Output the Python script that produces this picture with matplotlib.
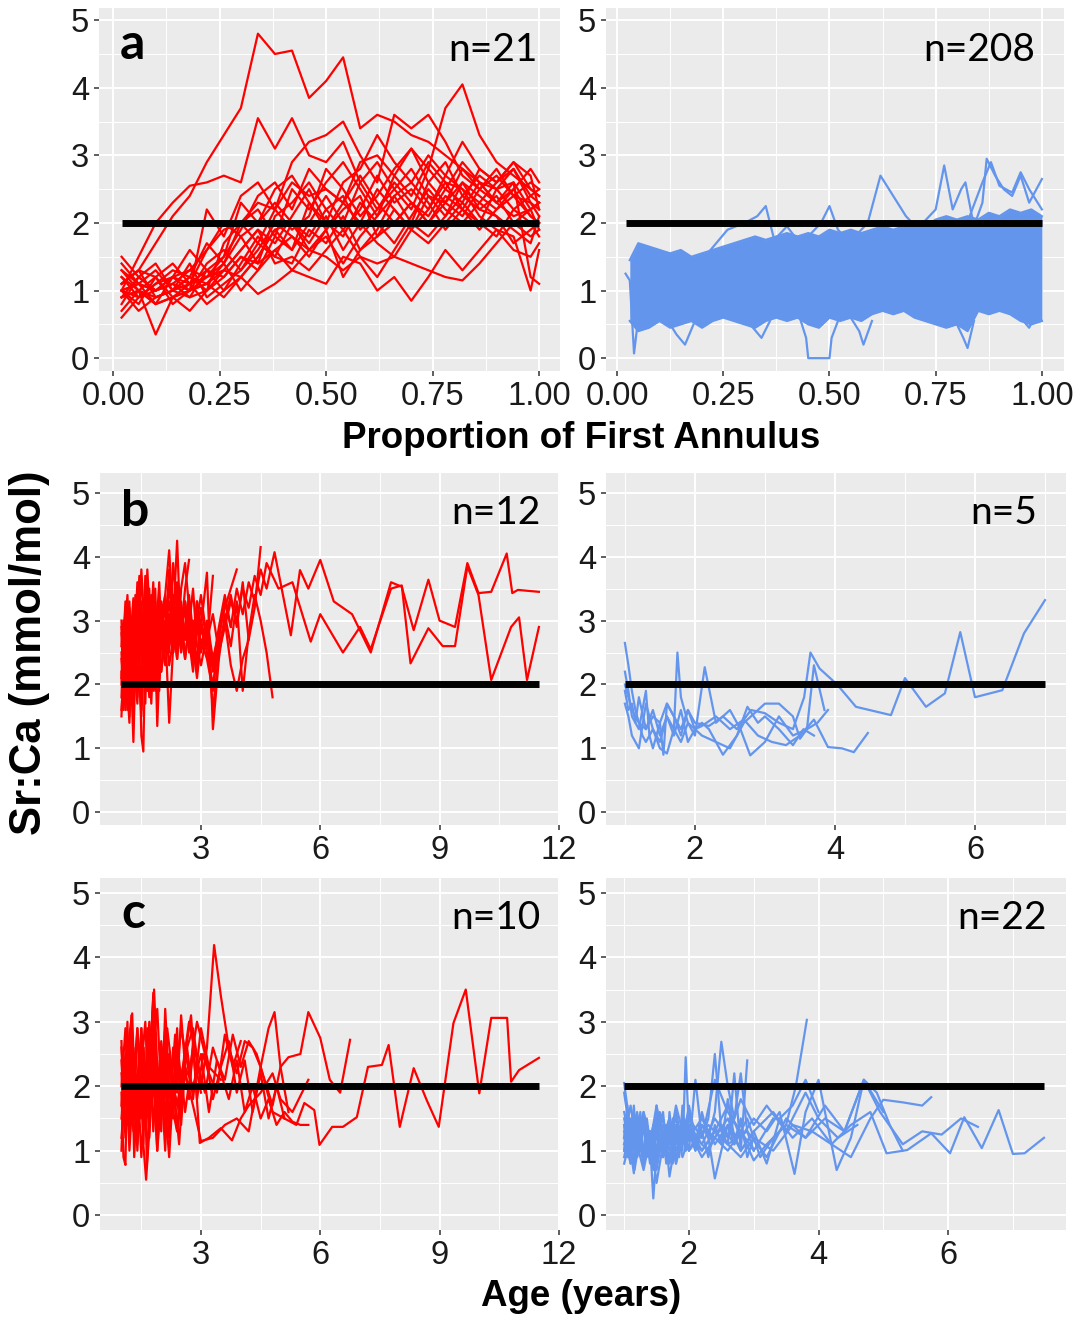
import matplotlib.pyplot as plt

RED = '#FF0000'
BLUE = '#6495ED'
PANEL_BG = '#EBEBEB'
THRESHOLD = 2.0

# ---------------- row a: Sr:Ca against proportion of first annulus ----------------
prop_a = [0.02, 0.06, 0.10, 0.14, 0.18, 0.22, 0.26, 0.30, 0.34, 0.38, 0.42, 0.46, 0.50,
          0.54, 0.58, 0.62, 0.66, 0.70, 0.74, 0.78, 0.82, 0.86, 0.90, 0.94, 0.98, 1.00]

a_left_srca = [
    [1.1, 1.3, 1.7, 2.1, 2.4, 2.9, 3.3, 3.7, 4.8, 4.5, 4.55, 3.85, 4.1, 4.45, 3.4, 3.6, 3.5, 3.3, 3.2, 3.0, 2.8, 2.6, 2.5, 2.8, 2.3, 2.2],
    [1.0, 0.9, 1.1, 1.2, 1.3, 1.6, 1.9, 2.0, 2.3, 2.2, 2.6, 2.4, 2.5, 2.3, 2.9, 3.0, 2.7, 3.1, 2.8, 3.7, 4.05, 3.3, 2.9, 2.7, 2.5, 2.4],
    [1.0, 1.5, 2.0, 2.3, 2.55, 2.6, 2.7, 2.6, 3.55, 3.1, 3.55, 3.0, 2.9, 3.2, 2.6, 2.2, 2.5, 2.8, 2.4, 2.1, 2.6, 2.4, 2.2, 2.5, 2.1, 2.0],
    [1.2, 1.0, 0.9, 1.0, 1.1, 1.3, 1.2, 1.5, 1.4, 1.6, 1.3, 1.2, 1.1, 1.5, 1.4, 1.0, 1.2, 0.85, 1.2, 1.6, 1.3, 1.6, 1.9, 1.8, 1.0, 1.6],
    [0.9, 1.0, 0.8, 0.9, 1.0, 1.2, 1.4, 1.0, 1.3, 1.6, 1.8, 1.6, 1.5, 1.3, 1.5, 1.4, 1.5, 1.4, 1.3, 1.2, 1.15, 1.4, 1.7, 2.0, 2.2, 1.9],
    [1.4, 1.1, 1.0, 1.1, 1.0, 2.2, 1.8, 2.4, 2.6, 2.2, 2.9, 3.2, 3.3, 3.5, 3.0, 2.6, 3.6, 3.4, 3.6, 3.2, 2.7, 2.5, 2.8, 2.4, 2.3, 2.1],
    [0.8, 1.2, 1.0, 1.1, 1.3, 1.2, 1.5, 2.3, 2.0, 2.5, 2.7, 2.3, 2.0, 2.6, 2.8, 3.3, 2.9, 2.6, 3.0, 2.7, 3.2, 2.8, 2.6, 2.9, 2.5, 2.4],
    [1.0, 0.7, 0.9, 1.0, 1.4, 0.9, 1.1, 1.3, 1.7, 1.5, 2.0, 1.7, 2.1, 1.6, 2.0, 2.5, 2.2, 1.9, 2.4, 2.3, 2.6, 2.2, 2.4, 2.0, 1.8, 1.9],
    [1.1, 1.3, 1.2, 0.8, 1.0, 1.1, 0.9, 1.2, 1.5, 1.9, 1.6, 2.3, 1.9, 2.2, 2.4, 1.8, 2.0, 2.3, 2.1, 2.5, 2.9, 2.6, 2.3, 2.6, 2.2, 2.3],
    [0.6, 0.9, 1.0, 1.2, 1.1, 1.6, 2.0, 1.8, 1.4, 2.1, 2.3, 2.6, 2.2, 2.4, 1.9, 2.2, 2.6, 2.3, 2.0, 2.3, 2.1, 2.5, 2.7, 2.4, 2.6, 2.5],
    [1.3, 1.0, 0.35, 0.9, 0.7, 1.0, 1.3, 1.6, 1.9, 1.7, 2.1, 2.5, 2.0, 1.8, 2.3, 2.0, 1.7, 2.1, 2.5, 2.2, 2.0, 2.3, 2.1, 1.7, 1.9, 2.0],
    [0.9, 1.2, 1.4, 1.0, 0.9, 1.0, 1.2, 1.5, 1.3, 1.8, 2.5, 2.2, 2.6, 2.9, 2.5, 2.1, 2.4, 2.0, 2.6, 2.9, 2.4, 2.7, 2.5, 2.2, 2.4, 2.3],
    [1.0, 1.1, 0.8, 1.2, 1.6, 1.3, 1.0, 1.4, 1.8, 1.5, 1.4, 1.9, 1.7, 2.1, 1.6, 1.9, 2.4, 2.6, 2.3, 1.9, 2.2, 1.9, 2.2, 2.4, 2.1, 2.0],
    [1.2, 0.9, 1.1, 1.3, 1.2, 1.0, 1.7, 2.0, 2.2, 1.8, 1.6, 2.0, 2.4, 2.0, 2.6, 2.9, 2.5, 2.2, 2.8, 2.5, 2.3, 2.8, 2.6, 2.9, 2.7, 2.2],
    [0.7, 1.0, 0.8, 0.9, 1.1, 0.8, 1.0, 1.2, 0.95, 1.1, 1.3, 1.6, 1.9, 1.2, 1.6, 1.8, 2.2, 1.9, 1.7, 2.0, 2.3, 2.0, 1.8, 2.2, 2.0, 1.8],
    [1.5, 1.2, 1.0, 1.1, 0.9, 1.3, 1.5, 1.9, 2.4, 2.6, 2.2, 2.8, 2.5, 2.3, 2.7, 2.3, 2.0, 2.3, 2.0, 2.4, 2.2, 2.6, 2.3, 2.5, 2.8, 2.6],
    [1.0, 0.8, 1.2, 0.9, 1.0, 1.4, 1.6, 1.3, 1.6, 2.0, 1.8, 1.5, 1.9, 2.3, 2.0, 1.7, 1.5, 1.9, 2.2, 2.6, 2.5, 2.1, 1.9, 1.6, 1.5, 1.7],
    [1.1, 1.3, 0.9, 1.0, 1.2, 1.1, 1.4, 1.8, 2.0, 2.3, 2.0, 1.8, 2.2, 1.9, 1.5, 1.2, 1.6, 2.0, 1.8, 2.1, 2.4, 2.2, 2.1, 1.9, 1.7, 2.1],
    [0.9, 1.0, 1.2, 1.4, 1.1, 1.2, 1.3, 1.6, 1.9, 1.4, 1.5, 1.3, 1.6, 1.9, 2.2, 2.7, 2.3, 2.5, 2.2, 2.7, 2.5, 2.3, 2.6, 2.8, 2.4, 2.5],
    [1.3, 1.1, 1.0, 1.2, 1.0, 1.1, 1.3, 1.2, 1.5, 1.9, 2.0, 1.6, 1.8, 1.4, 1.8, 2.1, 2.7, 2.4, 2.9, 2.6, 2.2, 2.0, 2.5, 2.6, 1.2, 1.1],
    [1.0, 1.1, 1.3, 1.0, 1.2, 1.7, 1.4, 2.0, 1.7, 2.2, 1.9, 2.1, 2.8, 2.5, 2.1, 2.4, 2.8, 3.1, 2.6, 2.3, 2.8, 2.5, 2.3, 2.1, 2.2, 2.3],
]

# the 208 blue profiles overlap into a solid band: its lower / upper edge
band_prop = [0.03, 0.05, 0.075, 0.10, 0.125, 0.15, 0.175, 0.20, 0.225, 0.25, 0.275, 0.30, 0.325,
             0.35, 0.375, 0.40, 0.425, 0.45, 0.475, 0.50, 0.525, 0.55, 0.575, 0.60, 0.625, 0.65,
             0.675, 0.70, 0.725, 0.75, 0.775, 0.80, 0.825, 0.85, 0.875, 0.90, 0.925, 0.95, 0.975, 1.00]
band_high = [1.45, 1.7, 1.65, 1.6, 1.55, 1.6, 1.5, 1.55, 1.6, 1.65, 1.7, 1.75, 1.8, 1.75, 1.8,
             1.85, 1.8, 1.85, 1.8, 1.9, 1.85, 1.9, 1.85, 1.9, 1.95, 1.9, 1.95, 2.0, 1.95, 2.05,
             2.1, 2.05, 2.1, 2.05, 2.15, 2.1, 2.2, 2.15, 2.2, 2.1]
band_low = [0.55, 0.4, 0.45, 0.55, 0.45, 0.5, 0.55, 0.45, 0.55, 0.6, 0.55, 0.5, 0.45, 0.55, 0.6,
            0.55, 0.6, 0.5, 0.45, 0.6, 0.55, 0.6, 0.55, 0.65, 0.7, 0.65, 0.7, 0.6, 0.55, 0.5,
            0.45, 0.5, 0.4, 0.7, 0.65, 0.7, 0.65, 0.55, 0.5, 0.55]

# individual blue profiles leaving the band
a_right_prop = [
    [0.22, 0.26, 0.30, 0.33, 0.35, 0.37, 0.40, 0.43],
    [0.45, 0.48, 0.50, 0.52, 0.55],
    [0.56, 0.59, 0.62, 0.65, 0.68, 0.71],
    [0.72, 0.75, 0.77, 0.79, 0.81, 0.82, 0.84, 0.86, 0.87, 0.89, 0.91, 0.93, 0.95, 0.97, 1.00],
    [0.83, 0.86, 0.88, 0.90, 0.93, 0.95, 0.97, 1.00],
    [0.02, 0.03, 0.04, 0.05, 0.07],
    [0.12, 0.14, 0.16, 0.18],
    [0.30, 0.32, 0.34, 0.36],
    [0.43, 0.445, 0.45, 0.47, 0.50, 0.505, 0.52],
    [0.55, 0.57, 0.58, 0.60],
    [0.80, 0.815, 0.825, 0.84],
    [0.95, 0.97, 0.99],
]
a_right_srca = [
    [1.6, 1.9, 2.0, 2.1, 2.25, 1.75, 1.95, 1.7],
    [1.8, 2.0, 2.25, 1.9, 1.7],
    [1.8, 2.0, 2.7, 2.4, 2.1, 1.9],
    [2.0, 2.2, 2.85, 2.2, 2.5, 2.6, 1.95, 2.3, 2.95, 2.7, 2.5, 2.4, 2.7, 2.3, 2.65],
    [2.1, 2.6, 2.9, 2.55, 2.45, 2.75, 2.5, 2.2],
    [1.25, 1.15, 0.07, 0.6, 0.9],
    [0.55, 0.35, 0.2, 0.5],
    [0.6, 0.45, 0.3, 0.55],
    [0.6, 0.3, 0.0, 0.0, 0.0, 0.3, 0.55],
    [0.6, 0.4, 0.2, 0.55],
    [0.5, 0.3, 0.15, 0.55],
    [0.6, 0.45, 0.7],
]

# ---------------- row b: Sr:Ca against age ----------------
age_b = [1.00, 1.05, 1.10, 1.15, 1.20, 1.25, 1.30, 1.35, 1.40, 1.45, 1.50, 1.55, 1.60, 1.65,
         1.70, 1.75, 1.80, 1.85, 1.90, 1.95, 2.00, 2.10, 2.20, 2.30, 2.40, 2.50, 2.60, 2.70,
         2.80, 2.90, 3.00, 3.15, 3.30, 3.45, 3.60, 3.75, 3.90, 4.05, 4.20, 4.35, 4.50, 4.65, 4.80]

# short profiles: each runs along age_b for as many values as it has
b_left_short = [
    [3.0, 2.2, 1.6, 2.8, 3.3, 2.4, 1.8, 2.9, 3.6, 2.5, 1.2, 0.95, 2.6, 3.8, 3.2, 2.1, 2.8, 3.5, 2.4, 1.9, 2.7, 3.4, 4.1, 3.0, 4.25, 2.6],
    [2.5, 1.9, 2.7, 3.1, 2.2, 1.7, 2.5, 3.4, 2.9, 2.0, 1.6, 2.8, 3.7, 2.3, 1.8, 3.0, 3.6, 2.6, 1.35, 2.2, 3.3, 2.7, 3.8, 3.1, 2.4, 3.5, 3.9, 3.2, 2.6, 3.3, 2.8],
    [1.8, 2.6, 3.2, 2.0, 1.5, 2.4, 3.0, 2.2, 1.9, 2.7, 3.3, 2.5, 1.7, 2.9, 3.5, 2.3, 2.0, 2.8, 3.1, 2.4, 2.2, 2.9, 1.4, 2.6, 3.4, 2.8, 3.2, 2.5, 3.0, 2.2, 2.9, 3.75, 1.3, 2.4, 3.1, 2.6, 3.3, 1.9, 2.8, 3.4, 3.0, 2.5, 1.8],
    [2.2, 1.6, 2.9, 3.4, 2.6, 2.0, 1.1, 2.3, 3.1, 3.7, 2.8, 2.1, 2.6, 3.3, 2.4, 1.7, 2.5, 3.2, 2.8, 2.3, 3.0, 2.5, 3.6, 2.9, 2.4, 3.1, 2.7, 3.3, 2.6, 2.1, 2.7, 2.4, 1.9, 2.8, 3.2, 3.5, 3.8],
    [2.8, 2.0, 1.7, 2.4, 3.0, 2.5, 1.9, 2.6, 3.4, 2.2, 1.5, 2.3, 3.0, 2.7, 2.2, 3.1, 2.5, 1.9, 2.6, 3.3, 2.8, 2.3, 2.9, 3.4, 2.7, 3.2, 2.4, 2.9, 3.5, 2.6, 2.3, 2.8, 1.6, 2.5, 3.0, 3.4, 2.9, 3.6, 2.7, 3.2, 4.15],
    [1.5, 2.3, 2.9, 1.9, 1.4, 2.6, 3.3, 2.1, 1.7, 2.9, 3.8, 3.2, 2.4, 1.9, 2.7, 3.4, 2.6, 2.2, 3.0, 2.5, 2.8, 3.2, 2.6, 3.0, 3.6, 2.9, 3.3, 2.7, 2.2, 3.1, 2.5, 2.9, 2.2, 2.7, 3.3],
    [2.6, 3.0, 2.3, 1.6, 2.1, 2.9, 3.35, 2.5, 1.8, 2.4, 3.2, 2.6, 2.0, 2.8, 3.4, 2.7, 1.9, 2.5, 3.1, 3.6, 2.8, 3.3, 2.5, 3.9, 3.2, 2.8, 3.5, 3.95],
    [2.0, 2.7, 1.9, 2.5, 3.1, 1.8, 2.4, 3.0, 2.6, 2.1, 1.8, 2.5, 3.2, 3.6, 2.7, 2.3, 3.0, 2.4, 2.0, 2.7, 3.1, 3.4, 2.9, 2.5, 3.2, 2.8, 2.4, 3.0, 2.6, 3.3, 2.9, 2.5, 2.0, 2.6, 3.0, 2.3, 1.9, 2.4, 2.7],
    [1.6, 2.1, 2.8, 3.2, 2.4, 1.9, 2.6, 3.3, 2.8, 2.2, 1.7, 2.4, 2.9, 3.3, 2.6, 2.0, 2.3, 2.9, 2.5, 2.1, 2.8, 3.0, 2.3, 2.7, 3.1, 2.6, 2.9, 3.3, 2.7, 2.4, 3.0, 2.6, 3.7],
    [2.4, 1.8, 2.5, 3.0, 2.2, 2.8, 1.7, 2.3, 2.9, 3.5, 2.4, 2.0, 2.6, 1.9, 2.5, 3.3, 2.8, 2.4, 3.0, 2.6, 2.2, 2.7, 3.1, 2.5, 2.9, 3.3, 2.7, 3.1, 2.4, 2.8, 3.2, 2.7, 2.3, 2.9, 3.4, 2.9],
]

# the two oldest fish: early part on age_b, then their later samples
b_old_early = [
    [2.9, 2.3, 1.8, 2.5, 3.2, 2.7, 2.0, 2.6, 3.1, 2.4, 1.9, 2.7, 3.4, 2.8, 2.3, 3.0, 2.5, 2.1, 2.8, 3.2, 2.6, 2.9, 3.3, 2.7, 3.0, 2.5, 2.9, 3.4, 2.8, 3.1, 2.6, 3.0, 2.4, 2.8, 3.3, 2.9, 3.5, 3.1, 3.6, 3.3, 3.8, 3.5],
    [2.1, 2.7, 3.3, 2.5, 1.9, 2.6, 3.0, 2.3, 2.8, 3.4, 2.6, 2.0, 2.5, 3.1, 2.7, 2.2, 2.9, 3.3, 2.4, 2.6, 3.0, 2.5, 2.8, 3.2, 2.6, 2.9, 3.3, 2.8, 2.4, 3.0, 3.4, 2.7, 3.1, 2.5, 2.9, 3.3, 3.0, 3.5, 3.2, 3.7, 3.4, 3.9],
]
b_old_late_age = [
    [4.85, 5.26, 5.49, 5.7, 6.0, 6.34, 6.8, 7.27, 7.78, 8.05, 8.35, 8.72, 9.0, 9.39, 9.7, 9.98, 10.3, 10.69, 10.83, 10.97, 11.5],
    [4.95, 5.3, 5.76, 6.0, 6.57, 7.0, 7.27, 7.78, 8.05, 8.27, 8.72, 9.08, 9.39, 9.7, 9.98, 10.3, 10.8, 11.0, 11.2, 11.5],
]
b_old_late_srca = [
    [4.07, 2.77, 3.79, 3.5, 3.95, 3.3, 3.1, 2.5, 3.6, 3.53, 2.85, 3.64, 3.0, 2.9, 3.9, 3.43, 3.45, 4.05, 3.43, 3.48, 3.45],
    [3.5, 3.6, 2.67, 3.1, 2.5, 2.9, 2.55, 3.5, 3.55, 2.33, 2.88, 2.6, 2.6, 3.85, 3.4, 2.07, 2.9, 3.05, 2.07, 2.9],
]

b_right_age = [
    [1.0, 1.05, 1.1, 1.15, 1.2, 1.3, 1.4, 1.5, 1.6, 1.7, 1.8, 1.9, 2.0, 2.2, 2.4, 2.6, 2.8, 3.0, 3.2, 3.4, 3.56, 3.65, 3.78, 4.03, 4.3, 4.8, 5.0, 5.3, 5.57, 5.79, 6.0, 6.39, 6.7, 7.0],
    [1.0, 1.05, 1.1, 1.15, 1.2, 1.25, 1.3, 1.4, 1.5, 1.6, 1.7, 1.8, 1.9, 2.0, 2.1, 2.3, 2.5, 2.7, 2.9, 3.1, 3.3, 3.5, 3.7, 3.9, 4.1, 4.27, 4.47],
    [1.0, 1.05, 1.1, 1.15, 1.2, 1.3, 1.4, 1.5, 1.6, 1.7, 1.75, 1.8, 1.9, 2.0, 2.14, 2.3, 2.5, 2.65, 2.79, 3.0, 3.2, 3.4, 3.6, 3.75, 3.9],
    [1.0, 1.05, 1.1, 1.2, 1.3, 1.4, 1.5, 1.6, 1.7, 1.8, 1.9, 2.0, 2.1, 2.3, 2.5, 2.7, 3.0, 3.2, 3.4, 3.5, 3.6, 3.7, 3.85],
    [1.0, 1.05, 1.1, 1.2, 1.3, 1.35, 1.4, 1.5, 1.55, 1.6, 1.7, 1.8, 1.9, 2.0, 2.1, 2.2, 2.4, 2.6, 2.75, 2.9, 3.0, 3.2, 3.4, 3.55, 3.7],
]
b_right_srca = [
    [2.0, 1.8, 1.6, 1.5, 1.4, 1.3, 1.5, 1.4, 1.7, 1.5, 1.3, 1.6, 1.4, 1.35, 1.5, 1.3, 1.6, 1.55, 1.4, 1.3, 1.8, 2.5, 2.25, 2.0, 1.65, 1.52, 2.1, 1.65, 1.86, 2.82, 1.8, 1.91, 2.8, 3.32],
    [2.65, 2.3, 1.9, 1.6, 1.4, 1.2, 1.1, 1.3, 1.0, 0.92, 1.3, 1.1, 1.4, 1.3, 1.35, 1.5, 1.3, 1.45, 1.2, 1.1, 1.05, 1.2, 1.45, 1.02, 1.0, 0.94, 1.24],
    [1.9, 1.6, 1.7, 1.4, 1.8, 1.3, 1.6, 1.2, 1.5, 1.3, 2.5, 1.8, 1.4, 1.2, 2.27, 1.4, 1.6, 1.3, 0.89, 1.1, 1.5, 1.2, 1.3, 1.4, 1.6],
    [1.7, 1.5, 1.2, 1.0, 1.7, 1.3, 1.1, 1.5, 1.2, 1.6, 1.1, 1.3, 1.2, 1.1, 1.0, 1.4, 1.7, 1.7, 1.5, 1.15, 1.3, 2.3, 1.6],
    [2.2, 1.9, 1.5, 1.3, 1.9, 1.2, 1.0, 1.4, 0.9, 1.7, 1.5, 1.2, 1.6, 1.3, 1.4, 1.3, 0.9, 1.2, 1.65, 1.4, 1.5, 1.3, 1.05, 1.3, 1.2],
]

# ---------------- row c: Sr:Ca against age ----------------
c_left_age = [
    [1.0, 1.1, 1.2, 1.3, 1.4, 1.5, 1.6, 1.7, 1.8, 1.9, 2.0, 2.2, 2.4, 2.6, 2.8, 3.0, 3.3, 3.6, 3.9, 4.2, 4.5, 4.8, 5.1, 5.4, 5.6, 5.85, 5.98, 6.3, 6.57, 6.92, 7.2, 7.55, 7.72, 8.0, 8.35, 8.68, 8.98, 9.35, 9.66, 10.0, 10.3, 10.7, 10.8, 11.0, 11.5],
    [1.0, 1.05, 1.1, 1.15, 1.2, 1.3, 1.4, 1.5, 1.6, 1.7, 1.8, 1.9, 2.0, 2.1, 2.2, 2.3, 2.4, 2.5, 2.6, 2.8, 3.0, 3.2, 3.4, 3.6, 3.8, 4.0, 4.2, 4.4, 4.6, 4.8, 5.0, 5.2, 5.5, 5.7, 6.0, 6.24, 6.5, 6.75],
    [1.0, 1.1, 1.2, 1.3, 1.4, 1.5, 1.6, 1.7, 1.8, 1.9, 2.0, 2.1, 2.2, 2.4, 2.6, 2.8, 3.0, 3.15, 3.33, 3.5, 3.7, 3.9, 4.1, 4.3, 4.5, 4.7, 4.85, 5.0, 5.2],
    [1.0, 1.05, 1.1, 1.15, 1.2, 1.25, 1.3, 1.4, 1.5, 1.55, 1.62, 1.7, 1.8, 1.9, 2.0, 2.1, 2.2, 2.3, 2.4, 2.5, 2.6, 2.7, 2.8, 2.97, 3.2, 3.5, 3.78, 4.0, 4.2, 4.5, 4.8, 5.0, 5.3, 5.7],
    [1.0, 1.1, 1.2, 1.27, 1.35, 1.45, 1.55, 1.65, 1.75, 1.82, 1.9, 2.0, 2.1, 2.2, 2.3, 2.4, 2.5, 2.7, 2.9, 3.1, 3.3, 3.5, 3.7, 3.9, 4.1, 4.3, 4.5, 4.7, 4.9, 5.1, 5.3, 5.5, 5.7],
    [1.0, 1.1, 1.2, 1.3, 1.4, 1.5, 1.6, 1.7, 1.8, 1.9, 2.0, 2.1, 2.2, 2.3, 2.5, 2.7, 2.9, 3.1, 3.3, 3.5, 3.7, 3.9, 4.1, 4.3, 4.5, 4.7, 4.9, 5.1],
    [1.0, 1.1, 1.2, 1.3, 1.4, 1.5, 1.6, 1.7, 1.8, 1.9, 2.0, 2.15, 2.3, 2.45, 2.6, 2.75, 2.9, 3.05, 3.2, 3.4, 3.6, 3.8, 4.0],
    [1.0, 1.1, 1.2, 1.3, 1.4, 1.5, 1.6, 1.7, 1.8, 1.9, 2.0, 2.1, 2.2, 2.35, 2.5, 2.65, 2.8, 3.0, 3.2, 3.5],
    [1.0, 1.1, 1.2, 1.3, 1.4, 1.5, 1.6, 1.7, 1.8, 1.9, 2.0, 2.1, 2.2, 2.3, 2.4, 2.5, 2.6, 2.8, 3.0],
    [1.0, 1.08, 1.16, 1.24, 1.32, 1.4, 1.48, 1.56, 1.64, 1.72, 1.8, 1.9, 2.0, 2.1, 2.2, 2.3, 2.45, 2.6],
]
c_left_srca = [
    [1.5, 2.3, 1.2, 2.6, 1.8, 2.9, 1.4, 2.5, 2.0, 1.6, 2.4, 1.9, 1.3, 2.2, 1.7, 1.15, 1.2, 1.4, 1.5, 1.3, 2.3, 1.6, 1.5, 1.4, 1.74, 1.63, 1.09, 1.37, 1.37, 1.52, 2.3, 2.33, 2.64, 1.37, 2.28, 1.78, 1.37, 2.98, 3.5, 1.89, 3.06, 3.06, 2.07, 2.25, 2.44],
    [2.7, 1.4, 2.2, 3.0, 1.6, 2.4, 1.1, 2.9, 1.7, 2.2, 3.4, 1.5, 2.7, 2.0, 1.3, 2.6, 1.9, 3.1, 2.3, 2.0, 2.5, 1.6, 2.4, 2.1, 2.8, 2.3, 2.7, 2.5, 2.1, 1.7, 2.3, 2.45, 2.5, 3.15, 2.75, 2.1, 1.9, 2.72],
    [2.0, 2.9, 1.5, 2.4, 1.0, 2.7, 1.9, 3.0, 2.2, 1.4, 2.6, 1.2, 2.3, 1.7, 2.5, 2.9, 2.0, 2.6, 4.19, 3.4, 2.6, 2.2, 2.7, 2.6, 2.3, 2.9, 3.15, 2.3, 1.6],
    [1.9, 0.9, 0.78, 2.5, 1.6, 3.1, 2.2, 1.4, 2.8, 1.1, 0.55, 1.3, 2.5, 1.0, 1.8, 2.6, 1.2, 1.9, 2.9, 1.4, 2.3, 1.8, 2.7, 1.12, 1.2, 1.35, 1.16, 1.5, 1.7, 1.9, 2.2, 1.8, 1.6, 2.1],
    [2.4, 1.2, 2.8, 3.13, 1.5, 2.6, 1.1, 2.9, 1.8, 3.5, 2.3, 1.3, 3.2, 2.0, 1.5, 2.7, 2.1, 3.0, 2.4, 1.9, 2.6, 2.2, 1.8, 2.4, 1.6, 2.0, 1.5, 1.8, 1.4, 1.6, 1.45, 1.4, 1.4],
    [2.6, 1.7, 2.3, 1.3, 2.9, 2.0, 1.4, 2.4, 3.3, 1.7, 2.1, 1.0, 2.5, 1.7, 2.9, 2.2, 3.0, 2.5, 1.8, 2.3, 2.7, 1.9, 2.4, 1.6, 2.2, 1.5, 2.0, 1.5],
    [1.2, 2.0, 2.7, 1.5, 2.2, 0.9, 1.9, 2.8, 1.3, 2.4, 1.6, 2.9, 2.1, 1.1, 2.5, 3.1, 1.8, 2.5, 2.2, 1.9, 2.8, 2.3, 2.7],
    [1.7, 2.5, 1.0, 2.1, 2.9, 1.6, 2.3, 1.2, 2.6, 3.2, 1.9, 2.4, 1.5, 2.8, 2.0, 2.6, 1.8, 2.9, 2.3, 2.1],
    [2.2, 1.3, 2.6, 1.9, 1.2, 2.3, 3.0, 1.5, 2.1, 1.0, 2.4, 1.7, 0.9, 2.0, 1.3, 2.2, 1.6, 2.5, 1.9],
    [1.0, 2.3, 1.4, 2.9, 0.9, 2.0, 1.5, 2.6, 0.8, 1.9, 3.45, 1.2, 2.2, 2.9, 1.4, 2.0, 1.6, 2.4],
]

c_right_age = [
    [1.0, 1.1, 1.2, 1.3, 1.4, 1.5, 1.6, 1.7, 1.8, 1.9, 2.0, 2.2, 2.4, 2.6, 2.8, 3.0, 3.3, 3.6, 3.9, 4.2, 4.5, 4.8, 5.05, 5.37, 5.74, 6.03, 6.25, 6.52, 6.78, 7.0, 7.18, 7.48],
    [1.0, 1.1, 1.2, 1.3, 1.4, 1.5, 1.6, 1.7, 1.8, 1.9, 2.0, 2.2, 2.4, 2.6, 2.8, 3.0, 3.2, 3.5, 3.8, 4.1, 4.4, 4.7, 4.95, 5.3, 5.6, 5.9, 6.2, 6.46],
    [1.0, 1.1, 1.2, 1.3, 1.4, 1.5, 1.6, 1.7, 1.8, 1.9, 2.0, 2.2, 2.4, 2.6, 2.8, 3.0, 3.3, 3.6, 3.9, 4.2, 4.5, 4.8, 5.0, 5.3, 5.6, 5.74],
    [1.0, 1.1, 1.2, 1.3, 1.4, 1.5, 1.6, 1.7, 1.8, 1.9, 2.0, 2.1, 2.3, 2.5, 2.7, 2.9, 3.1, 3.3, 3.5, 3.65, 3.82],
    [1.0, 1.1, 1.2, 1.3, 1.4, 1.5, 1.6, 1.7, 1.8, 1.9, 2.0, 2.2, 2.4, 2.6, 2.8, 3.0, 3.2, 3.4, 3.63, 3.8, 4.0, 4.28, 4.5, 4.7, 4.9, 5.1, 5.3],
    [1.0, 1.1, 1.2, 1.3, 1.4, 1.5, 1.6, 1.7, 1.8, 1.9, 2.0, 2.2, 2.4, 2.6, 2.8, 3.0, 3.2, 3.5, 3.8, 4.0, 4.3, 4.6],
    [1.0, 1.1, 1.2, 1.3, 1.4, 1.5, 1.6, 1.7, 1.8, 1.9, 2.0, 2.1, 2.2, 2.3, 2.4, 2.5, 2.6, 2.7, 2.8, 2.9, 3.0],
    [1.0, 1.08, 1.16, 1.24, 1.32, 1.4, 1.45, 1.5, 1.6, 1.7, 1.8, 1.9, 1.95, 2.0, 2.1, 2.2, 2.3, 2.4, 2.5, 2.6, 2.7, 2.8, 2.9, 3.0],
    [1.0, 1.1, 1.2, 1.3, 1.4, 1.5, 1.6, 1.7, 1.8, 1.9, 2.0, 2.1, 2.2, 2.3, 2.4, 2.5, 2.6, 2.7, 2.8, 2.9],
    [1.0, 1.1, 1.2, 1.3, 1.4, 1.5, 1.6, 1.7, 1.8, 1.9, 2.0, 2.1, 2.2, 2.3, 2.4, 2.5, 2.6, 2.7, 2.8],
    [1.0, 1.1, 1.2, 1.3, 1.4, 1.5, 1.6, 1.7, 1.8, 1.9, 2.0, 2.2, 2.4, 2.6, 2.8, 3.0, 3.3],
    [1.0, 1.1, 1.2, 1.3, 1.4, 1.5, 1.6, 1.7, 1.8, 1.9, 2.0, 2.2, 2.4, 2.6, 2.8, 3.0, 3.2, 3.4, 3.6, 3.8, 4.0],
    [1.0, 1.1, 1.2, 1.3, 1.4, 1.5, 1.6, 1.7, 1.8, 1.9, 2.0, 2.3, 2.6, 2.9, 3.2, 3.5, 3.8, 4.1, 4.4, 4.7, 5.0],
    [1.0, 1.05, 1.1, 1.15, 1.2, 1.25, 1.3, 1.35, 1.4, 1.45, 1.5, 1.55, 1.6, 1.65, 1.7, 1.75, 1.8, 1.85, 1.9, 1.95, 2.0],
    [1.0, 1.05, 1.1, 1.15, 1.2, 1.25, 1.3, 1.35, 1.4, 1.45, 1.5, 1.55, 1.6, 1.65, 1.7, 1.75, 1.8, 1.85, 1.9, 1.95, 2.0],
    [1.0, 1.05, 1.1, 1.15, 1.2, 1.25, 1.3, 1.35, 1.4, 1.45, 1.5, 1.55, 1.6, 1.65, 1.7, 1.75, 1.8, 1.85, 1.9, 1.95, 2.0],
]
c_right_srca = [
    [1.3, 1.0, 1.5, 0.9, 1.2, 1.4, 1.0, 1.3, 1.1, 1.5, 1.2, 1.0, 1.3, 1.1, 0.9, 1.2, 1.0, 1.4, 1.3, 1.1, 1.4, 1.6, 0.96, 1.01, 1.27, 0.96, 1.52, 1.04, 1.63, 0.95, 0.96, 1.2],
    [1.6, 1.1, 1.4, 1.0, 1.3, 0.8, 1.2, 1.5, 1.1, 1.3, 1.0, 1.4, 1.2, 1.0, 1.3, 0.85, 1.1, 1.4, 1.2, 1.5, 1.3, 2.1, 1.6, 1.1, 1.3, 1.25, 1.5, 1.37],
    [1.2, 0.8, 1.1, 1.5, 1.0, 1.3, 0.9, 1.2, 1.6, 1.1, 1.3, 0.9, 1.2, 1.5, 1.0, 1.3, 1.6, 1.2, 1.5, 1.1, 0.9, 1.5, 1.79, 1.75, 1.7, 1.83],
    [1.1, 1.5, 0.9, 1.3, 1.1, 1.6, 1.2, 0.9, 1.4, 1.1, 1.7, 1.2, 1.0, 1.4, 1.1, 1.5, 0.9, 1.2, 1.4, 2.0, 3.03],
    [2.05, 1.3, 1.0, 1.4, 0.9, 1.2, 1.5, 1.0, 1.3, 1.1, 1.4, 1.0, 1.3, 1.7, 1.2, 1.5, 1.3, 1.6, 0.64, 1.6, 2.1, 0.7, 1.2, 2.1, 1.9, 1.4, 1.0],
    [0.9, 1.4, 1.1, 0.7, 1.2, 1.5, 1.0, 1.3, 0.8, 1.2, 1.4, 1.1, 1.5, 1.2, 1.8, 1.4, 1.7, 1.3, 1.9, 1.5, 1.2, 1.4],
    [1.5, 1.0, 1.3, 0.8, 1.1, 1.4, 0.9, 1.2, 1.5, 1.1, 1.3, 1.0, 1.4, 1.2, 1.6, 2.69, 2.0, 1.5, 2.2, 1.3, 1.0],
    [1.0, 1.4, 0.7, 1.2, 0.9, 1.1, 0.26, 1.0, 1.3, 0.8, 1.2, 1.0, 2.45, 1.3, 1.1, 1.6, 1.2, 0.57, 1.0, 1.4, 1.1, 1.5, 0.9, 1.2],
    [1.2, 1.7, 1.0, 1.5, 0.8, 1.3, 1.6, 0.6, 1.2, 1.4, 1.0, 2.1, 1.2, 1.5, 2.5, 1.3, 1.1, 2.2, 1.0, 2.4],
    [0.8, 1.2, 1.6, 1.0, 1.3, 0.5, 1.1, 1.5, 1.0, 1.3, 1.6, 1.0, 1.3, 0.9, 1.4, 1.1, 1.8, 1.2, 1.4],
    [1.9, 1.2, 0.9, 1.4, 1.1, 1.7, 1.2, 0.9, 1.3, 1.1, 1.5, 1.2, 2.1, 1.6, 1.3, 1.0, 1.5],
    [1.4, 0.9, 1.2, 1.6, 1.0, 0.7, 1.3, 1.1, 1.4, 0.9, 1.2, 1.5, 1.1, 1.4, 1.0, 1.3, 0.8, 1.5, 1.7, 2.1, 1.6],
    [1.1, 1.4, 1.0, 1.6, 1.2, 0.9, 1.4, 1.1, 1.7, 1.3, 1.0, 1.4, 1.1, 1.3, 0.9, 1.5, 1.2, 1.7, 1.3, 2.1, 1.6],
    [1.0, 1.5, 0.8, 1.3, 1.1, 1.6, 0.9, 1.4, 1.2, 0.7, 1.5, 1.0, 1.3, 0.8, 1.6, 1.1, 1.4, 0.9, 1.7, 1.2, 1.5],
    [1.4, 0.9, 1.2, 1.7, 1.0, 1.3, 0.75, 1.5, 1.1, 1.4, 0.9, 1.6, 1.2, 1.0, 1.5, 0.8, 1.3, 1.1, 1.6, 1.0, 1.3],
    [1.2, 1.7, 1.0, 0.65, 1.4, 1.1, 1.5, 0.9, 1.3, 1.0, 1.7, 1.2, 0.9, 1.4, 1.1, 1.5, 0.8, 1.2, 1.4, 1.0, 1.6],
]

panel_letters = ['a', 'b', 'c']
sample_sizes = ['n=21', 'n=208', 'n=12', 'n=5', 'n=10', 'n=22']

plt.rcParams['font.family'] = ['Liberation Sans', 'DejaVu Sans']

fig = plt.figure(figsize=(10.81, 13.19), dpi=100)
W, H = 1081.0, 1319.0


def add_panel(x0, x1, y0, y1):
    # pixel box -> figure fraction
    return fig.add_axes([x0 / W, 1 - y1 / H, (x1 - x0) / W, (y1 - y0) / H])


def style(ax, xlim, ylim, xmajor, xminor, xlabels):
    ax.set_facecolor(PANEL_BG)
    ax.set_xlim(*xlim)
    ax.set_ylim(*ylim)
    ax.set_xticks(xmajor)
    ax.set_xticklabels(xlabels)
    ax.set_xticks(xminor, minor=True)
    ax.set_yticks([0, 1, 2, 3, 4, 5])
    ax.set_yticks([0.5, 1.5, 2.5, 3.5, 4.5], minor=True)
    ax.grid(which='major', color='white', lw=1.4)
    ax.grid(which='minor', color='white', lw=0.7)
    ax.set_axisbelow(True)
    for s in ax.spines.values():
        s.set_visible(False)
    ax.tick_params(which='minor', length=0)
    ax.tick_params(which='major', length=3.5, width=1.1, color='#333333',
                   labelsize=23.5, labelcolor='#1a1a1a', pad=3.5)


def threshold(ax, x0, x1):
    ax.plot([x0, x1], [THRESHOLD, THRESHOLD], color='black', lw=5,
            solid_capstyle='butt', zorder=5)


def annotate(ax, letter, n_text, ly, ny, nx):
    if letter:
        ax.text(0.046, ly, letter, transform=ax.transAxes, fontsize=36,
                fontweight='bold', family='Lato', va='center', ha='left', zorder=6)
    ax.text(nx, ny, n_text, transform=ax.transAxes, fontsize=28,
            family='Lato', va='center', ha='right', zorder=6)


prop_ticks = [0, 0.25, 0.5, 0.75, 1.0]
prop_minor = [0.125, 0.375, 0.625, 0.875]
prop_labels = ['0.00', '0.25', '0.50', '0.75', '1.00']
LW = 1.6

# row a
ax = add_panel(99, 560, 8, 371)
style(ax, (-0.033, 1.049), (-0.19, 5.18), prop_ticks, prop_minor, prop_labels)
for ys in a_left_srca:
    ax.plot(prop_a, ys, color=RED, lw=LW)
threshold(ax, 0.02, 1.0)
annotate(ax, panel_letters[0], sample_sizes[0], 0.90, 0.885, 0.952)

ax = add_panel(606, 1064, 8, 371)
style(ax, (-0.026, 1.052), (-0.19, 5.18), prop_ticks, prop_minor, prop_labels)
ax.fill_between(band_prop, band_low, band_high, color=BLUE, lw=0)
ax.plot(band_prop, band_high, color=BLUE, lw=LW)
ax.plot(band_prop, band_low, color=BLUE, lw=LW)
for xs, ys in zip(a_right_prop, a_right_srca):
    ax.plot(xs, ys, color=BLUE, lw=LW)
threshold(ax, 0.02, 1.0)
annotate(ax, None, sample_sizes[1], 0.90, 0.885, 0.937)

# row b
ax = add_panel(100, 560, 473, 825)
style(ax, (0.46, 12.03), (-0.2, 5.31), [3, 6, 9, 12], [1.5, 4.5, 7.5, 10.5],
      ['3', '6', '9', '12'])
for ys in b_left_short:
    ax.plot(age_b[:len(ys)], ys, color=RED, lw=LW)
for early, late_x, late_y in zip(b_old_early, b_old_late_age, b_old_late_srca):
    ax.plot(age_b[:len(early)] + late_x, early + late_y, color=RED, lw=LW)
threshold(ax, 1.0, 11.5)
annotate(ax, panel_letters[1], sample_sizes[2], 0.89, 0.885, 0.957)

ax = add_panel(606, 1066, 473, 825)
style(ax, (0.73, 7.3), (-0.2, 5.31), [2, 4, 6], [1, 3, 5, 7], ['2', '4', '6'])
for xs, ys in zip(b_right_age, b_right_srca):
    ax.plot(xs, ys, color=BLUE, lw=LW)
threshold(ax, 1.0, 7.0)
annotate(ax, None, sample_sizes[3], 0.89, 0.885, 0.937)

# row c
ax = add_panel(100, 560, 878, 1230)
style(ax, (0.46, 12.03), (-0.23, 5.23), [3, 6, 9, 12], [1.5, 4.5, 7.5, 10.5],
      ['3', '6', '9', '12'])
for xs, ys in zip(c_left_age, c_left_srca):
    ax.plot(xs, ys, color=RED, lw=LW)
threshold(ax, 1.0, 11.5)
annotate(ax, panel_letters[2], sample_sizes[4], 0.90, 0.885, 0.957)

ax = add_panel(606, 1066, 878, 1230)
style(ax, (0.72, 7.82), (-0.23, 5.23), [2, 4, 6], [1, 3, 5, 7], ['2', '4', '6'])
for xs, ys in zip(c_right_age, c_right_srca):
    ax.plot(xs, ys, color=BLUE, lw=LW)
threshold(ax, 1.0, 7.48)
annotate(ax, None, sample_sizes[5], 0.90, 0.885, 0.959)

# shared axis titles
fig.text(581 / W, 1 - 438 / H, 'Proportion of First Annulus', ha='center', va='center',
         fontsize=26.5, fontweight='bold')
fig.text(581 / W, 1 - 1297 / H, 'Age (years)', ha='center', va='center',
         fontsize=26.5, fontweight='bold')
fig.text(30 / W, 1 - 653 / H, 'Sr:Ca (mmol/mol)', ha='center', va='center',
         rotation=90, fontsize=31.5, fontweight='bold')

fig.savefig('out.png', dpi=100, facecolor='white')
